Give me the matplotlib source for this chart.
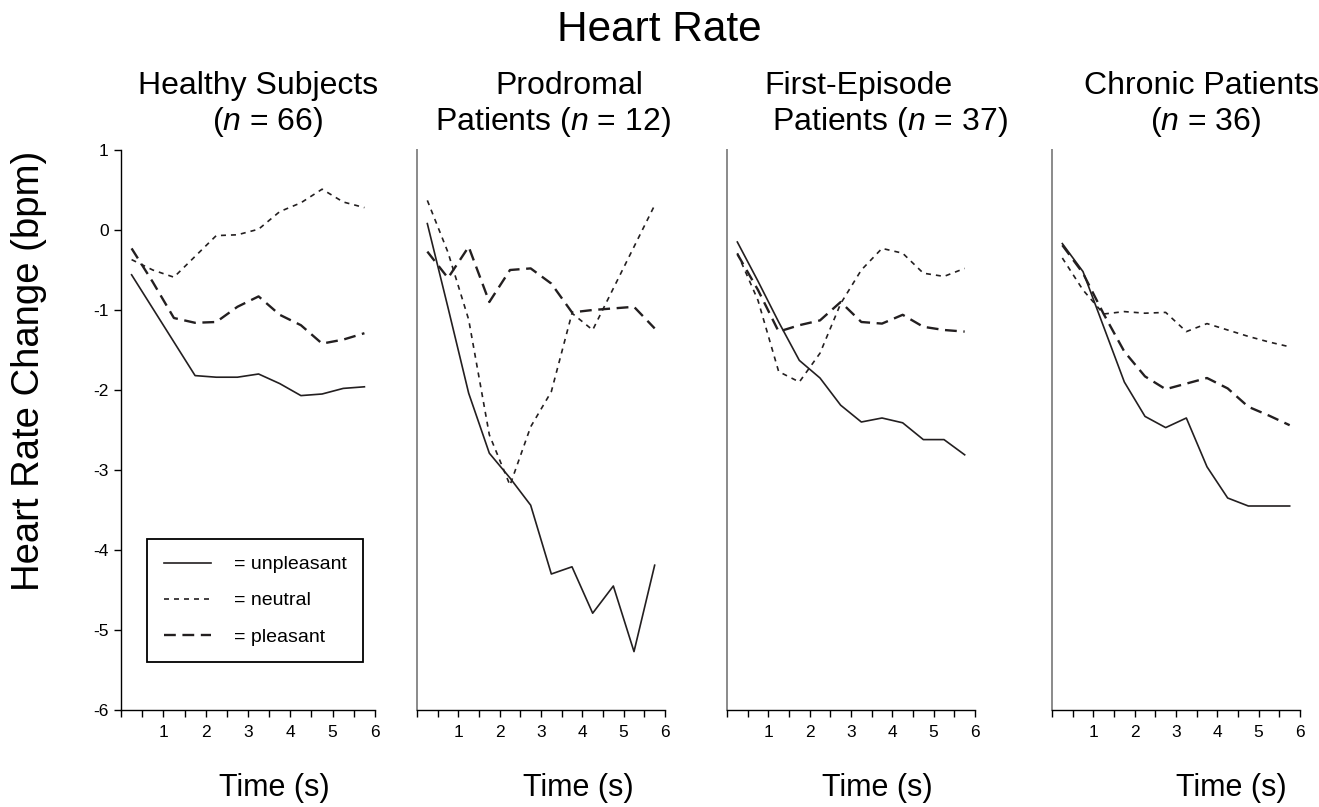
import numpy as np
import matplotlib
matplotlib.use('Agg')
import matplotlib.pyplot as plt
from matplotlib.lines import Line2D

plt.rcParams['font.family'] = ['Liberation Sans', 'DejaVu Sans']
plt.rcParams['mathtext.fontset'] = 'custom'
plt.rcParams['mathtext.rm'] = 'Liberation Sans'
plt.rcParams['mathtext.it'] = 'Liberation Sans:italic'
plt.rcParams['axes.unicode_minus'] = False

# Dados (mudanca da frequencia cardiaca, bpm)
time_s = [0.25, 0.75, 1.25, 1.75, 2.25, 2.75, 3.25, 3.75, 4.25, 4.75, 5.25, 5.75]

healthy_unpleasant = [-0.56, -0.98, -1.40, -1.82, -1.84, -1.84, -1.80, -1.92, -2.07, -2.05, -1.98, -1.96]
healthy_neutral = [-0.37, -0.50, -0.59, -0.33, -0.07, -0.06, 0.01, 0.23, 0.34, 0.51, 0.35, 0.28]
healthy_pleasant = [-0.23, -0.65, -1.10, -1.16, -1.15, -0.96, -0.83, -1.06, -1.19, -1.42, -1.37, -1.29]

prodromal_unpleasant = [0.08, -0.97, -2.04, -2.79, -3.10, -3.44, -4.30, -4.21, -4.79, -4.45, -5.27, -4.19]
prodromal_neutral = [0.37, -0.28, -1.12, -2.56, -3.19, -2.46, -2.02, -1.04, -1.25, -0.73, -0.21, 0.31]
prodromal_pleasant = [-0.27, -0.60, -0.21, -0.90, -0.50, -0.48, -0.67, -1.03, -1.00, -0.98, -0.96, -1.23]

first_unpleasant = [-0.15, -0.64, -1.15, -1.63, -1.85, -2.19, -2.40, -2.35, -2.41, -2.62, -2.62, -2.81]
first_neutral = [-0.29, -0.88, -1.77, -1.90, -1.54, -0.92, -0.50, -0.23, -0.29, -0.54, -0.58, -0.48]
first_pleasant = [-0.30, -0.75, -1.27, -1.19, -1.13, -0.90, -1.15, -1.17, -1.06, -1.21, -1.25, -1.27]

chronic_unpleasant = [-0.17, -0.52, -1.21, -1.90, -2.33, -2.47, -2.35, -2.96, -3.35, -3.45, -3.45, -3.45]
chronic_neutral = [-0.35, -0.75, -1.05, -1.02, -1.04, -1.03, -1.27, -1.17, -1.25, -1.33, -1.40, -1.46]
chronic_pleasant = [-0.19, -0.54, -1.05, -1.52, -1.83, -1.99, -1.92, -1.85, -1.98, -2.21, -2.32, -2.44]

title_line1 = ['Healthy Subjects', 'Prodromal', 'First-Episode', 'Chronic Patients']
title_line2 = [r'($\it{n}$ = 66)', r'Patients ($\it{n}$ = 12)',
               r'Patients ($\it{n}$ = 37)', r'($\it{n}$ = 36)']
condition_labels = ['= unpleasant', '= neutral', '= pleasant']

x_ticks = [0, 0.5, 1, 1.5, 2, 2.5, 3, 3.5, 4, 4.5, 5, 5.5, 6]
x_tick_labels = ['', '', '1', '', '2', '', '3', '', '4', '', '5', '', '6']
y_ticks = [1, 0, -1, -2, -3, -4, -5, -6]

series = [
    (healthy_unpleasant, healthy_neutral, healthy_pleasant),
    (prodromal_unpleasant, prodromal_neutral, prodromal_pleasant),
    (first_unpleasant, first_neutral, first_pleasant),
    (chronic_unpleasant, chronic_neutral, chronic_pleasant),
]

# layout (fracoes da figura) e estilos
W, H = 1319, 807
panel_left_px = [121, 417, 727, 1052]
panel_width_px = [254, 248, 248, 248]
bottom = 1 - 710 / H
height = 560 / H
line_color = '#231f20'
styles = [
    dict(linestyle='-', linewidth=1.2),
    dict(linestyle=(0, (3, 3)), linewidth=1.2),
    dict(linestyle=(0, (5, 2.8)), linewidth=1.7),
]
title1_x = [0.538, 0.616, 0.531, 0.601]
title2_x = [0.579, 0.546, 0.658, 0.618]
xlabel_x = [0.603, 0.649, 0.608, 0.723]

fig = plt.figure(figsize=(W / 100, H / 100), dpi=100)
fig.text(0.5, 1 - 30 / H, 'Heart Rate', ha='center', va='center', fontsize=30.5)

axes = []
for i in range(4):
    ax = fig.add_axes([panel_left_px[i] / W, bottom, panel_width_px[i] / W, height])
    axes.append(ax)
    for vals, st in zip(series[i], styles):
        ax.plot(time_s, vals, color=line_color, **st)

    ax.set_xlim(0, 6)
    ax.set_ylim(-6, 1)
    ax.spines['top'].set_visible(False)
    ax.spines['right'].set_visible(False)
    ax.spines['bottom'].set_color('black')
    ax.spines['bottom'].set_linewidth(1.0)
    ax.set_xticks(x_ticks)
    ax.set_xticklabels(x_tick_labels)
    ax.tick_params(axis='x', direction='out', length=5, width=1.0, pad=6, labelsize=12.5)

    if i == 0:
        ax.spines['left'].set_color('black')
        ax.spines['left'].set_linewidth(1.0)
        ax.set_yticks(y_ticks)
        ax.set_yticklabels([str(v) for v in y_ticks])
        ax.tick_params(axis='y', direction='out', length=5, width=1.0, pad=4, labelsize=12.5)
        ax.set_ylabel('Heart Rate Change (bpm)', fontsize=27.5)
        ax.yaxis.set_label_coords(-0.29, 0.605)
    else:
        ax.spines['left'].set_color('#8a8a8a')
        ax.spines['left'].set_linewidth(1.4)
        ax.set_yticks([])

    ax.text(title1_x[i], (710 - 86) / 560, title_line1[i], transform=ax.transAxes,
            ha='center', va='center', fontsize=23)
    ax.text(title2_x[i], (710 - 122) / 560, title_line2[i], transform=ax.transAxes,
            ha='center', va='center', fontsize=23)
    ax.set_xlabel('Time (s)', fontsize=22)
    ax.xaxis.set_label_coords(xlabel_x[i], -0.1125)

handles = [Line2D([], [], color=line_color, **st) for st in styles]
leg = axes[0].legend(handles, condition_labels, loc='upper left',
                     bbox_to_anchor=(0.104, 0.305), borderaxespad=0,
                     fontsize=14, handlelength=2.4, handletextpad=1.2,
                     labelspacing=0.95, borderpad=0.85, frameon=True,
                     fancybox=False, framealpha=1)
leg.get_frame().set_edgecolor('black')
leg.get_frame().set_linewidth(1.3)

fig.savefig('out.png', dpi=100)
